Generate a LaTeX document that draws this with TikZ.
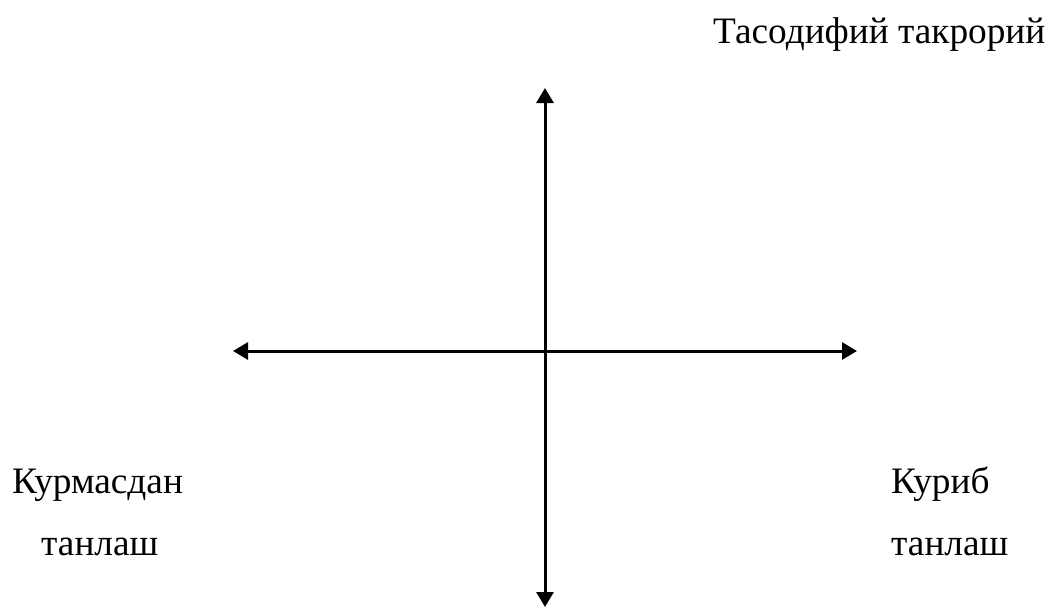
\documentclass[tikz,border=0pt]{standalone}
\usepackage{fontspec}
\setmainfont{Liberation Serif}
\usetikzlibrary{arrows.meta}
\begin{document}
\begin{tikzpicture}[x=1pt,y=-1pt,
  lbl/.style={inner sep=0pt,anchor=base west,font=\fontsize{37.3}{45}\selectfont},
  axis/.style={line width=3pt,{Triangle[length=15pt,width=17pt]}-{Triangle[length=15pt,width=17pt]}}]
\useasboundingbox (0,0) rectangle (1051,614);
\coordinate (top) at (545,88);
\coordinate (bot) at (545,607);
\coordinate (lft) at (233,351);
\coordinate (rgt) at (857,351);
\draw[axis] (lft) -- (rgt);
\draw[axis] (bot) -- (top);
\node[lbl] (t1) at (713,43) {Тасодифий такрорий};
\node[lbl] (l1) at (12,493) {Курмасдан};
\node[lbl] (l2) at (41,555) {танлаш};
\node[lbl] (r1) at (891,493) {Куриб};
\node[lbl] (r2) at (891,555) {танлаш};
\end{tikzpicture}
\end{document}
